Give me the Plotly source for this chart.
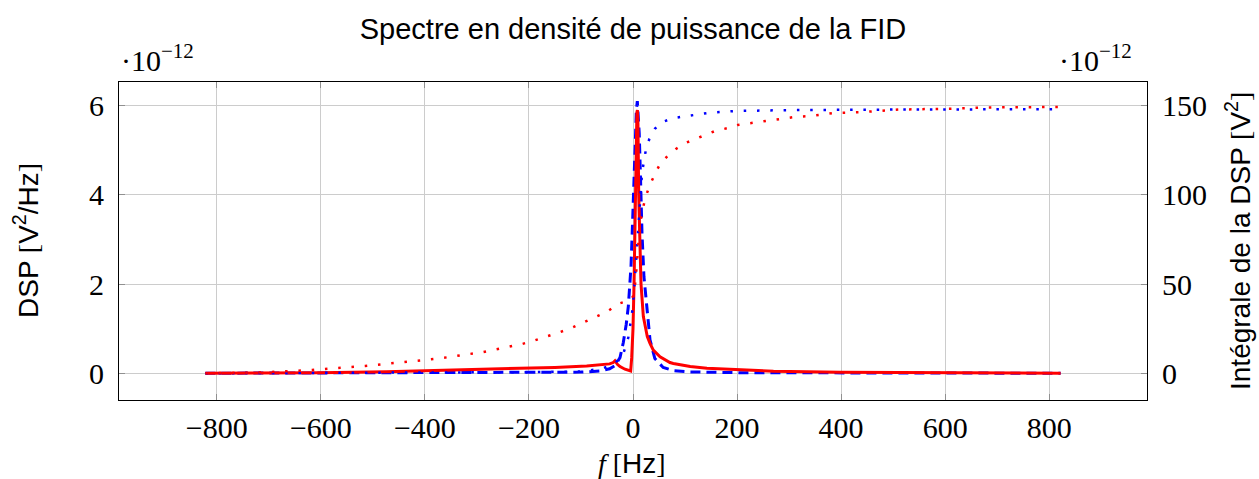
import plotly.graph_objects as go

# ---- Data (values in units of 1e-12) ----
f_blue = [-822, -600, -400, -200, -100, -63.5, -45, -34.6, -25, -18.6, -13, -9, -3.8, -1.3,
          2, 4.5, 6.5, 8.3, 10, 12, 14.7, 17.3, 21, 26, 32.7, 42, 52, 58, 77, 110, 200, 400, 600, 822]
dsp_blue = [0, 0.003, 0.006, 0.015, 0.025, 0.05, 0.1, 0.17, 0.35, 0.69, 1.1, 1.5, 2.4, 3.22,
            4.42, 5.38, 5.9, 6.1, 5.85, 5.38, 4.26, 3.14, 2.17, 1.49, 0.75, 0.33, 0.2, 0.13, 0.06, 0.03, 0.012, 0.006, 0.003, 0]

f_red = [-822, -700, -602, -474, -345, -217, -150, -89, -63.5, -45, -38, -34.6, -30, -25, -15.4, -5.8,
         -4.5, -2.5, 0, 2, 4.5, 6, 7.5, 8.5, 9.5, 11, 13, 15.4, 19.9, 27.5, 32.7, 39, 52, 71, 77.5,
         110, 142, 200, 270, 398, 590, 700, 822]
dsp_red = [0, 0.006, 0.013, 0.036, 0.067, 0.11, 0.13, 0.16, 0.18, 0.21, 0.24, 0.28, 0.2, 0.15, 0.09, 0.05,
           0.05, 0.35, 1.0, 2.0, 4.0, 5.2, 5.85, 5.9, 5.6, 4.0, 3.0, 2.0, 1.27, 0.82, 0.67, 0.52, 0.37, 0.24, 0.22,
           0.15, 0.11, 0.075, 0.045, 0.022, 0.01, 0.005, 0]

f_int_blue = [-822, -400, -200, -100, -60, -35, -18.6, -9, -3.8, -1.3, 2, 4.5, 8.3, 12, 14.7, 17.3, 21,
              24.4, 31, 42, 55, 78, 100, 123, 146, 196, 300, 500, 822]
int_blue = [0, 0.3, 0.6, 1, 2.5, 5.5, 11, 20, 29, 35, 46, 57, 75, 93, 104, 112, 119,
            124.6, 131, 137, 140.7, 143, 144, 145, 146, 147, 147.5, 147.8, 148]

f_int_red = [-822, -771, -745, -720, -694, -669, -643, -617, -592, -567, -541, -515, -490, -464, -439,
             -414, -388, -363, -339, -313, -288, -263, -238, -213, -190, -165.6, -141, -118, -95, -72.5,
             -50, -27.6, -5, 0, 3, 6, 9, 12, 15, 19, 25.6, 33, 43, 52.5, 66.5, 82.5, 100.6, 119.8, 139,
             158, 180.6, 201, 223.7, 246.7, 269, 291.7, 315, 341, 363, 385.8, 436, 461, 510, 610, 686,
             787.7, 822]
int_red = [0, 0.1, 0.2, 0.4, 0.7, 1.0, 1.5, 1.8, 2.4, 2.8, 3.5, 4.1, 4.8, 5.4, 6.2,
           6.9, 7.8, 8.7, 9.7, 10.8, 11.9, 13.4, 14.9, 16.4, 18.3, 20.5, 23, 25.4, 28.4, 31.7,
           34.5, 39, 41, 43, 47, 56, 68, 79, 86, 92.5, 100, 106, 112, 117.7, 121.8, 125.7, 129, 131.3, 133.6,
           135.8, 137.3, 139.2, 140.1, 141, 142, 143, 143.8, 144.2, 145, 145.9, 146.3, 146.8, 147.8, 148.3, 149,
           149.2, 149.3]

x_ticks = [-800, -600, -400, -200, 0, 200, 400, 600, 800]
y_ticks = [0, 2, 4, 6]
y2_ticks = [0, 50, 100, 150]

SERIF = "Liberation Serif"
SANS = "Liberation Sans"
DOT = "2.5px,10.8px"

fig = go.Figure()
fig.add_trace(go.Scatter(x=f_blue, y=dsp_blue, mode="lines",
                         line=dict(color="#0000ff", width=3, dash="10px,6px"), yaxis="y"))
fig.add_trace(go.Scatter(x=f_red, y=dsp_red, mode="lines",
                         line=dict(color="#ff0000", width=3), yaxis="y"))
fig.add_trace(go.Scatter(x=f_int_blue, y=int_blue, mode="lines",
                         line=dict(color="#0000ff", width=2.5, dash=DOT), yaxis="y2"))
fig.add_trace(go.Scatter(x=f_int_red, y=int_red, mode="lines",
                         line=dict(color="#ff0000", width=2.5, dash=DOT), yaxis="y2"))

tickfont = dict(family=SERIF, size=30, color="black")
fig.update_layout(
    width=1259, height=479,
    margin=dict(l=119, r=112, t=82, b=79, autoexpand=False),
    paper_bgcolor="white", plot_bgcolor="white",
    showlegend=False,
    title=dict(text="Spectre en densité de puissance de la FID",
               font=dict(family=SANS, size=29, color="black"),
               x=0.5, xref="paper", xanchor="center",
               y=1 - 29 / 479, yref="container", yanchor="middle"),
    xaxis=dict(range=[-988, 988], tickvals=x_ticks, ticks="inside", ticklen=6,
               tickcolor="#909090", showline=True, linecolor="black", linewidth=1,
               mirror="ticks", showgrid=True, gridcolor="#cccccc", gridwidth=1,
               zeroline=False, tickfont=tickfont, ticklabelstandoff=1),
    yaxis=dict(range=[-0.6, 6.53], tickvals=y_ticks, ticks="inside", ticklen=6,
               tickcolor="#909090", showline=True, linecolor="black", linewidth=1,
               showgrid=True, gridcolor="#cccccc", gridwidth=1, zeroline=False,
               tickfont=tickfont, ticklabelstandoff=8),
    yaxis2=dict(range=[-15, 163.25], tickvals=y2_ticks, ticks="inside", ticklen=6,
                tickcolor="#909090", showline=True, linecolor="black", linewidth=1,
                overlaying="y", side="right", showgrid=False, zeroline=False,
                tickfont=tickfont, ticklabelstandoff=8),
)

pw, ph = 1028.0, 318.0
def px(x):
    return (x - 119) / pw
def py(y):
    return (400 - y) / ph

br = lambda s: f'<span style="font-family:{SERIF}">{s}</span>'
ann = [
    dict(text=f"DSP {br('[')}V<sup>2</sup>/Hz{br(']')}", x=px(26), y=0.5, textangle=-90,
         font=dict(family=SANS, size=28, color="black")),
    dict(text=f"Intégrale de la DSP {br('[')}V<sup>2</sup>{br(']')}", x=px(1238), y=0.5, textangle=-90,
         font=dict(family=SANS, size=28, color="black")),
    dict(text=f'<span style="font-family:{SERIF}"><i>f</i> [</span>Hz{br("]")}', x=px(632), y=py(463),
         font=dict(family=SANS, size=28, color="black")),
    dict(text="·10<sup>−12</sup>", x=px(157), y=py(58),
         font=dict(family=SERIF, size=30, color="black")),
    dict(text="·10<sup>−12</sup>", x=px(1095), y=py(58),
         font=dict(family=SERIF, size=30, color="black")),
]
for a in ann:
    a.update(xref="paper", yref="paper", showarrow=False, xanchor="center", yanchor="middle")
fig.update_layout(annotations=ann)

fig.write_html("out.html", config={"displayModeBar": False},
               post_script="document.body.style.margin='0px';document.body.style.overflow='hidden';")
